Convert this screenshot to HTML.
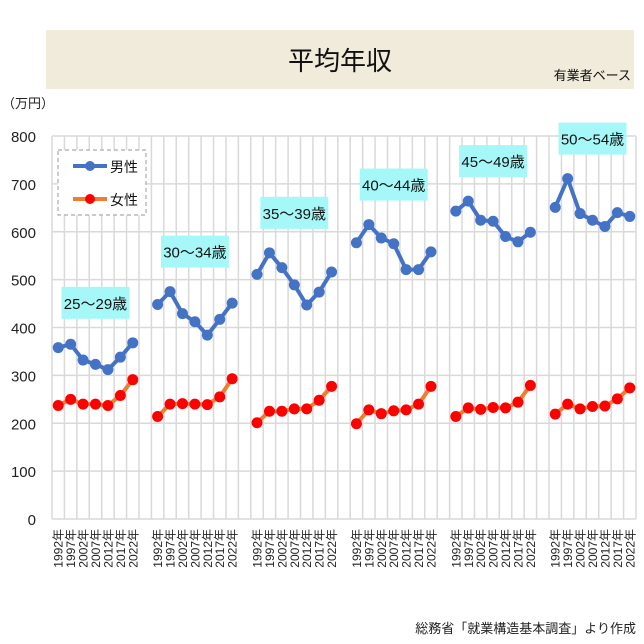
<!DOCTYPE html>
<html><head><meta charset="utf-8">
<style>
html,body{margin:0;padding:0;background:#fff;}
svg{display:block;font-family:"Liberation Sans","Noto Sans CJK JP",sans-serif;}
</style></head>
<body>
<svg id="chart" width="644" height="644" viewBox="0 0 644 644">
<rect x="46" y="30" width="588" height="59" fill="#F0EBDB"/>
<text x="340" y="70" font-size="26" text-anchor="middle" fill="#111">平均年収</text>
<text x="631" y="80" font-size="13" text-anchor="end" fill="#111">有業者ベース</text>
<text x="2" y="108" font-size="13" fill="#222">（万円）</text>
<text x="636" y="633" font-size="13" text-anchor="end" fill="#222">総務省「就業構造基本調査」より作成</text>
<g id="grid"></g>
<g id="labels"></g>
<g id="series"></g>
<g id="legend">
<rect x="58" y="150" width="88" height="65" fill="#fff" stroke="#aaa" stroke-dasharray="4,3" stroke-width="1.2"/>
<line x1="73" y1="166" x2="107" y2="166" stroke="#4472C4" stroke-width="4"/>
<circle cx="90" cy="166" r="5" fill="#4472C4"/>
<text x="110" y="172" font-size="14" fill="#111">男性</text>
<line x1="73" y1="199" x2="107" y2="199" stroke="#ED7D31" stroke-width="4"/>
<circle cx="90" cy="199" r="5" fill="#FF0000"/>
<text x="110" y="205" font-size="14" fill="#111">女性</text>
</g>
</svg>
<script>
const groups = ["25～29歳","30～34歳","35～39歳","40～44歳","45～49歳","50～54歳"];
const years = ["1992年","1997年","2002年","2007年","2012年","2017年","2022年"];
const yTicks = [0,100,200,300,400,500,600,700,800];
const male1 = [358,365,332,323,312,338,368];
const male2 = [448,475,429,412,384,417,451];
const male3 = [511,556,525,489,447,474,516];
const male4 = [577,615,587,575,521,521,558];
const male5 = [643,664,624,622,590,579,599];
const male6 = [651,711,638,624,611,640,632];
const female1 = [237,250,240,240,237,258,291];
const female2 = [214,240,241,240,239,255,293];
const female3 = [201,225,225,230,230,248,277];
const female4 = [199,228,220,226,228,240,277];
const female5 = [214,232,229,233,232,244,279];
const female6 = [219,240,230,235,236,251,274];
const maleSeries = [male1,male2,male3,male4,male5,male6];
const femaleSeries = [female1,female2,female3,female4,female5,female6];

const NS = "http://www.w3.org/2000/svg";
const X0 = 52, X1 = 636, Y0 = 519, Y1 = 136, YMAX = 800;
const nSlots = groups.length * years.length + groups.length - 1;
const slotW = (X1 - X0) / nSlots;
function slot(g, i){ return g * (years.length + 1) + i; }
function xPos(g, i){ return X0 + (slot(g, i) + 0.5) * slotW; }
function yPos(v){ return Y0 - v / YMAX * (Y0 - Y1); }
function mk(tag, attrs, parent){
  const el = document.createElementNS(NS, tag);
  for (const k in attrs) el.setAttribute(k, attrs[k]);
  parent.appendChild(el);
  return el;
}
const grid = document.getElementById("grid");
const labels = document.getElementById("labels");
const series = document.getElementById("series");

for (let s = 0; s <= nSlots; s++) {
  const x = X0 + s * slotW;
  const l = mk("line", {x1:x, y1:Y1, x2:x, y2:Y0, stroke:"#D9D9D9", "stroke-width":1.5}, grid);
  
  
}
yTicks.forEach(v => {
  const y = yPos(v);
  const l = mk("line", {x1:X0, y1:y, x2:X1, y2:y, stroke:"#D9D9D9", "stroke-width":1.5}, grid);
  
  
  const t = mk("text", {x:36, y:y + 6, "font-size":15, "text-anchor":"end", fill:"#222"}, labels);
  t.textContent = v;
  
  
});

groups.forEach((gname, g) => {
  years.forEach((yr, i) => {
    const x = xPos(g, i);
    const t = mk("text", {x:0, y:0, "font-size":12, "text-anchor":"end", fill:"#222",
      transform:"translate(" + (x + 4.5) + ",529) rotate(-90)"}, labels);
    t.textContent = yr;
    
    
  });
  const mv = maleSeries[g], fv = femaleSeries[g];
  const xm = (xPos(g, 0) + xPos(g, years.length - 1)) / 2;
  const boxY = yPos(Math.max(...mv)) - 56;
  const bx = mk("rect", {x:xm - 34, y:boxY, width:68, height:32, fill:"#A6F8F8"}, labels);
  
  
  const bt = mk("text", {x:xm, y:boxY + 22, "font-size":15, "text-anchor":"middle", fill:"#111"}, labels);
  bt.textContent = gname;
  
  

  [[fv, "#ED7D31", "#FF0000", "female"], [mv, "#4472C4", "#4472C4", "male"]].forEach(([vals, lc, mc, nm]) => {
    const pts = vals.map((v, i) => xPos(g, i) + "," + yPos(v)).join(" ");
    const pl = mk("polyline", {points:pts, fill:"none", stroke:lc, "stroke-width":4, "stroke-linejoin":"round"}, series);
    
    
    vals.forEach((v, i) => {
      const c = mk("circle", {cx:xPos(g, i), cy:yPos(v), r:5.5, fill:mc}, series);
      
      
    });
  });
});
</script>
</body></html>
